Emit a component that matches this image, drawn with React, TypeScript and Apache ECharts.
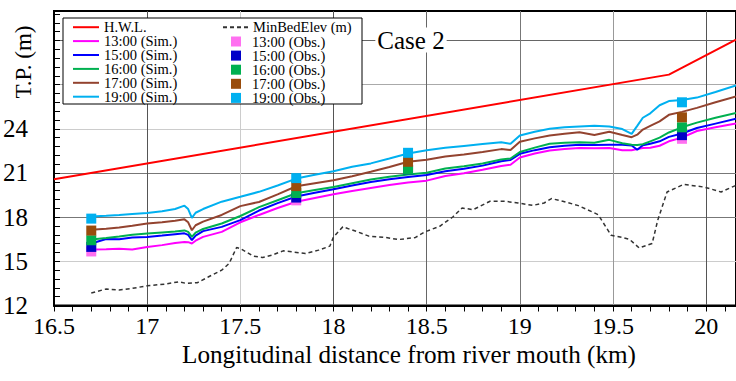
import React, { useEffect, useRef } from "react";
import * as echarts from "echarts";

const xTicks = [16.5, 17, 17.5, 18, 18.5, 19, 19.5, 20];
const yTicks = [12, 15, 18, 21, 24];

const hwlX = [16.5, 19.8, 20.16];
const hwlY = [20.57, 27.68, 30.05];

const bedX = [16.70, 16.78, 16.85, 16.92, 17.00, 17.10, 17.17, 17.21, 17.27, 17.33, 17.40, 17.44, 17.48, 17.50, 17.57, 17.62, 17.67, 17.73, 17.78, 17.85, 17.92, 17.98, 18.00, 18.05, 18.13, 18.19, 18.28, 18.35, 18.44, 18.49, 18.57, 18.64, 18.69, 18.75, 18.84, 18.92, 18.99, 19.07, 19.13, 19.17, 19.23, 19.31, 19.39, 19.42, 19.49, 19.55, 19.59, 19.64, 19.71, 19.74, 19.79, 19.88, 19.99, 20.08, 20.16];
const bedY = [12.85, 13.12, 13.05, 13.16, 13.34, 13.46, 13.61, 13.50, 13.55, 13.95, 14.40, 14.86, 15.94, 15.87, 15.35, 15.26, 15.42, 15.71, 15.64, 15.53, 15.76, 16.03, 16.66, 17.34, 17.00, 16.71, 16.62, 16.48, 16.62, 17.00, 17.38, 18.01, 18.62, 18.51, 19.08, 19.08, 18.96, 18.80, 18.96, 19.26, 19.08, 18.80, 18.35, 18.17, 16.77, 16.62, 16.48, 15.91, 16.21, 17.79, 19.71, 20.23, 20.04, 19.71, 20.16];

const simX = [16.70, 16.78, 16.85, 16.92, 17.00, 17.08, 17.15, 17.20, 17.22, 17.24, 17.26, 17.30, 17.40, 17.50, 17.60, 17.70, 17.80, 17.90, 18.00, 18.10, 18.20, 18.30, 18.40, 18.50, 18.60, 18.70, 18.80, 18.90, 18.95, 19.00, 19.08, 19.16, 19.24, 19.32, 19.40, 19.48, 19.55, 19.60, 19.63, 19.66, 19.70, 19.75, 19.80, 19.87, 19.95, 20.05, 20.16];
const sim13 = [15.80, 15.82, 15.85, 15.80, 15.98, 16.10, 16.25, 16.32, 16.30, 16.21, 16.40, 16.66, 17.00, 17.65, 18.15, 18.62, 19.05, 19.30, 19.55, 19.78, 19.98, 20.18, 20.35, 20.48, 20.80, 20.98, 21.22, 21.48, 21.56, 22.05, 22.32, 22.53, 22.62, 22.69, 22.68, 22.70, 22.55, 22.55, 22.62, 22.70, 22.72, 22.85, 23.15, 23.40, 23.85, 24.10, 24.36];
const sim15 = [16.21, 16.52, 16.50, 16.62, 16.66, 16.75, 16.84, 16.90, 16.80, 16.44, 16.75, 17.05, 17.34, 17.80, 18.45, 18.95, 19.40, 19.65, 19.90, 20.15, 20.38, 20.58, 20.73, 20.86, 21.12, 21.28, 21.50, 21.80, 21.88, 22.30, 22.55, 22.75, 22.85, 22.92, 22.90, 22.92, 22.92, 22.87, 22.58, 22.88, 22.98, 23.15, 23.45, 23.68, 24.05, 24.35, 24.68];
const sim16 = [16.48, 16.58, 16.68, 16.80, 16.89, 16.96, 17.02, 17.10, 17.00, 16.66, 16.95, 17.20, 17.57, 18.08, 18.68, 19.15, 19.62, 19.85, 20.05, 20.30, 20.55, 20.74, 20.90, 21.02, 21.30, 21.45, 21.65, 21.92, 21.98, 22.42, 22.72, 22.98, 23.05, 23.09, 23.05, 23.25, 23.02, 22.92, 22.90, 22.95, 23.15, 23.40, 23.75, 24.10, 24.42, 24.75, 25.08];
const sim17 = [17.15, 17.22, 17.30, 17.42, 17.57, 17.66, 17.75, 17.85, 17.65, 17.11, 17.45, 17.70, 18.15, 18.75, 19.03, 19.55, 20.10, 20.30, 20.50, 20.78, 21.08, 21.40, 21.76, 21.90, 22.12, 22.25, 22.42, 22.62, 22.56, 23.12, 23.35, 23.55, 23.66, 23.76, 23.58, 23.80, 23.58, 23.43, 23.60, 23.95, 24.20, 24.50, 24.95, 25.15, 25.42, 25.80, 26.20];
const sim19 = [18.05, 18.10, 18.15, 18.22, 18.28, 18.40, 18.55, 18.78, 18.55, 17.95, 18.30, 18.55, 19.05, 19.38, 19.72, 20.15, 20.62, 20.88, 21.12, 21.42, 21.65, 21.98, 22.32, 22.55, 22.72, 22.84, 22.96, 23.08, 22.98, 23.55, 23.80, 24.00, 24.10, 24.16, 24.20, 24.15, 23.98, 23.66, 24.20, 24.75, 25.05, 25.60, 25.88, 25.95, 26.12, 26.50, 26.95];

const obsX = [16.70, 17.80, 18.40, 19.87];
const obs13 = [15.67, 19.14, 21.20, 23.32];
const obs15 = [15.98, 19.33, 21.20, 23.57];
const obs16 = [16.43, 19.64, 21.22, 24.10];
const obs17 = [17.09, 20.11, 21.76, 24.78];
const obs19 = [17.90, 20.65, 22.37, 25.80];

const simNames = ["13:00 (Sim.)", "15:00 (Sim.)", "16:00 (Sim.)", "17:00 (Sim.)", "19:00 (Sim.)"];
const obsNames = ["13:00 (Obs.)", "15:00 (Obs.)", "16:00 (Obs.)", "17:00 (Obs.)", "19:00 (Obs.)"];
const simColors = ["#ff00ff", "#0000ff", "#00b050", "#93432f", "#00b0f0"];
const obsColors = ["#ff70f0", "#0000c8", "#00b050", "#994c0c", "#00b0f0"];

const FONT = "'Liberation Serif', 'Times New Roman', serif";

export default function App() {
  const ref = useRef<HTMLDivElement>(null);
  useEffect(() => {
    if (!ref.current) return;
    const chart = echarts.init(ref.current, undefined, { renderer: "svg" });
    const zip = (xs: number[], ys: number[]) => xs.map((x, i) => [x, ys[i]]);
    const sims = [sim13, sim15, sim16, sim17, sim19];
    const obs = [obs13, obs15, obs16, obs17, obs19];
    const series: any[] = [
      {
        name: "H.W.L.", type: "line", data: zip(hwlX, hwlY), symbol: "none", showSymbol: false,
        lineStyle: { color: "#ff0000", width: 2 }, itemStyle: { color: "#ff0000" }, z: 2,
      },
      {
        name: "MinBedElev (m)", type: "line", data: zip(bedX, bedY), symbol: "none", showSymbol: false,
        lineStyle: { color: "#333", width: 1.5, type: [4, 3] }, itemStyle: { color: "#333" }, z: 2,
      },
    ];
    sims.forEach((s, i) => {
      series.push({
        name: simNames[i], type: "line", data: zip(simX, s), symbol: "none", showSymbol: false,
        lineStyle: { color: simColors[i], width: 2 }, itemStyle: { color: simColors[i] }, z: 3,
      });
    });
    obs.forEach((s, i) => {
      series.push({
        name: obsNames[i], type: "scatter", data: zip(obsX, s), symbol: "rect", symbolSize: 10,
        itemStyle: { color: obsColors[i], opacity: 1 }, z: 4,
      });
    });
    const xSplitColors = ["#ccc", "#555", "#ccc", "#555", "#666", "#777", "#999", "#555"];
    const ySplitColors = ["#000", "#ccc", "#777", "#777", "#ccc", "#aaa", "#666", "#000"];
    const legendText = { fontFamily: FONT, fontSize: 14.5, color: "#000", lineHeight: 14 };
    chart.setOption({
      animation: false,
      backgroundColor: "#fff",
      textStyle: { fontFamily: FONT, color: "#000" },
      grid: { left: 54, top: 11, right: -2, bottom: 75.5, show: true, borderColor: "#000", borderWidth: 2, backgroundColor: "transparent" },
      xAxis: {
        type: "value", min: 16.5, max: 20.16, interval: 0.5,
        axisLine: { show: true, lineStyle: { color: "#000", width: 2 } },
        axisTick: { show: true, inside: false, length: 6, lineStyle: { color: "#000" } },
        minorTick: { show: true, splitNumber: 5, length: 6, lineStyle: { color: "#000" } },
        splitLine: { show: true, lineStyle: { color: xSplitColors, width: 1 } },
        axisLabel: {
          fontSize: 24, fontFamily: FONT, color: "#000", margin: 8, showMaxLabel: false,
          formatter: (v: number) => (xTicks.includes(v) ? String(v) : ""),
        },
        name: "Longitudinal distance from river mouth (km)", nameLocation: "middle", nameGap: 36,
        nameTextStyle: { fontSize: 25.2, fontFamily: FONT, color: "#000", padding: [0, 0, 0, 28] },
      },
      yAxis: {
        type: "value", min: 12, max: 32, interval: 3,
        axisLine: { show: true, lineStyle: { color: "#000", width: 2 } },
        axisTick: { show: true, inside: true, length: 6, lineStyle: { color: "#000" } },
        minorTick: { show: true, splitNumber: 5, length: 6, lineStyle: { color: "#000" } },
        splitLine: { show: true, lineStyle: { color: ySplitColors, width: 1 } },
        axisLabel: {
          fontSize: 25, fontFamily: FONT, color: "#000", margin: 26, showMaxLabel: false,
          formatter: (v: number) => (yTicks.includes(v) ? String(v) : ""),
        },
      },
      legend: [
        {
          data: ["H.W.L.", ...simNames], orient: "vertical", left: 72, top: 19.7, padding: 0,
          itemWidth: 26, itemHeight: 14, itemGap: -1.1, selectedMode: false, z: 20,
          itemStyle: { opacity: 0 },
          textStyle: legendText,
        },
        {
          data: ["MinBedElev (m)"], orient: "vertical", left: 222, top: 19.7, padding: 0,
          itemWidth: 25, itemHeight: 14, itemGap: -1.1, selectedMode: false, z: 20,
          itemStyle: { opacity: 0 },
          textStyle: legendText,
        },
        {
          data: obsNames, orient: "vertical", left: 231, top: 34, padding: 0, icon: "rect",
          itemWidth: 10, itemHeight: 10, itemGap: -0.9, selectedMode: false, z: 20,
          textStyle: { ...legendText, padding: [0, 0, 0, 6] },
        },
      ],
      graphic: [
        {
          type: "rect", z: 10, shape: { x: 63, y: 18, width: 299, height: 86 },
          style: { fill: "#fff", stroke: "#000", lineWidth: 1 },
        },
        {
          type: "text", z: 10, x: 411, y: 40,
          style: {
            text: "Case 2", font: `25px ${FONT}`, fill: "#000", align: "center", verticalAlign: "middle",
            backgroundColor: "#fff", padding: [0, 2],
          },
        },
        {
          type: "text", z: 10, x: 23, y: 62, rotation: Math.PI / 2,
          style: { text: "T.P. (m)", font: `23px ${FONT}`, fill: "#000", align: "center", verticalAlign: "middle" },
        },
      ],
      series,
    });
    return () => chart.dispose();
  }, []);
  return <div ref={ref} style={{ position: "absolute", left: 0, top: 0, width: 736, height: 381 }} />;
}
